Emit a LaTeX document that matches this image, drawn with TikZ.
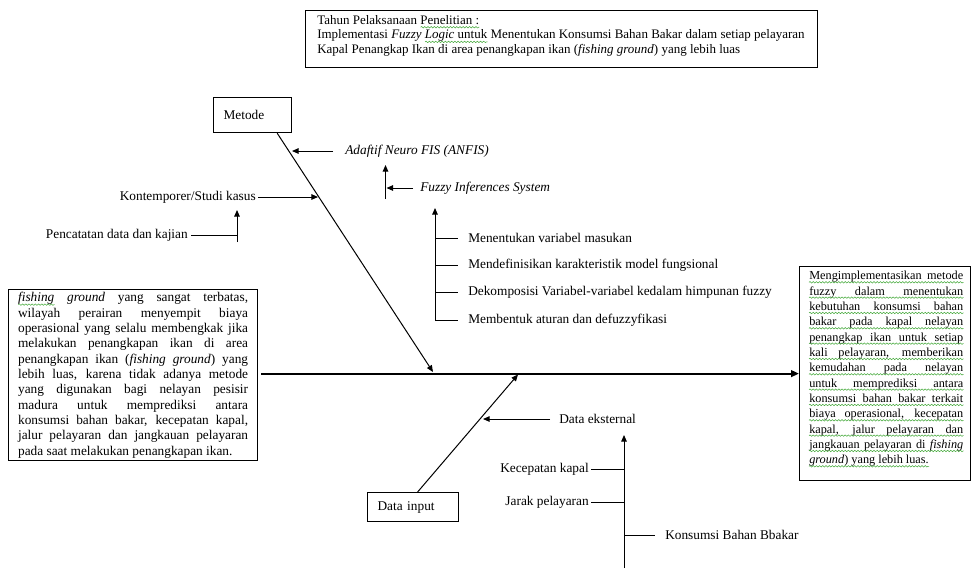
\documentclass[tikz,border=0pt]{standalone}
\usepackage{fontspec}
\setmainfont{Liberation Serif}
\usetikzlibrary{arrows.meta,calc,decorations.pathmorphing}
\definecolor{wavc}{RGB}{70,170,60}
\tikzset{
  ln/.style={line width=0.75pt},
  arr/.style={line width=0.75pt,-{Triangle[length=5pt,width=4.2pt]}},
  lbl/.style={inner sep=0pt,font=\fontsize{10}{12}\selectfont},
  ilbl/.style={inner sep=0pt,font=\fontsize{10}{12}\selectfont\itshape},
  framebox/.style={draw,line width=0.9pt,inner sep=0pt},
  wave/.style={draw=wavc,line width=0.4pt,decorate,decoration={snake,amplitude=0.55pt,segment length=2.4pt}},
}
\newsavebox\gwbox
\newcommand\gw[1]{\sbox\gwbox{#1}\rlap{\tikz[baseline=0pt,x=1pt,y=1pt]\path[wave] (0,-2.2) -- (\the\wd\gwbox,-2.2);}\usebox\gwbox}
\begin{document}
\begin{tikzpicture}[x=0.75pt,y=-0.75pt]
\useasboundingbox (0,0) rectangle (971,568);
% top box
\node[framebox,anchor=north west,minimum width=384pt,minimum height=42.75pt] (topbox) at (305,10) {};
\node[lbl,anchor=north west,align=left,font=\fontsize{9.75}{11}\selectfont] (toptext) at (317,15)
 {Tahun Pelaksanaan \gw{Penelitian :}\\
  Implementasi \textit{Fuzzy} \gw{\textit{Logic} untuk} Menentukan Konsumsi Bahan Bakar dalam setiap pelayaran\\
  Kapal Penangkap Ikan di area penangkapan ikan (\textit{fishing ground}) yang lebih luas};
% left box
\node[framebox,anchor=north west,minimum width=186.75pt,minimum height=128.25pt] (lbox) at (8,289) {};
\node[lbl,text width=172.5pt,align=justify,font=\fontsize{10}{11.5}\selectfont] (ltext) at (lbox.center)
 {\gw{\textit{fishing}} \textit{ground} yang sangat terbatas,\linebreak
  wilayah perairan menyempit biaya\linebreak
  operasional yang selalu membengkak jika\linebreak
  melakukan penangkapan ikan di area\linebreak
  penangkapan ikan (\textit{fishing ground}) yang\linebreak
  lebih luas, karena tidak adanya metode\linebreak
  yang digunakan bagi nelayan pesisir\linebreak
  madura untuk memprediksi antara\linebreak
  konsumsi bahan bakar, kecepatan kapal,\linebreak
  jalur pelayaran dan jangkauan pelayaran\linebreak
  pada saat melakukan penangkapan ikan.};
% right box
\node[framebox,anchor=north west,minimum width=128.25pt,minimum height=160.5pt] (rbox) at (799,266) {};
\node[lbl,anchor=north west,text width=115.5pt,align=justify,font=\fontsize{9.2}{11.5}\selectfont] (rtext) at (809,271)
 {Mengimplementasikan metode\linebreak
  fuzzy dalam menentukan\linebreak
  kebutuhan konsumsi bahan\linebreak
  bakar pada kapal nelayan\linebreak
  penangkap ikan untuk setiap\linebreak
  kali pelayaran, memberikan\linebreak
  kemudahan pada nelayan\linebreak
  untuk memprediksi antara\linebreak
  konsumsi bahan bakar terkait\linebreak
  biaya operasional, kecepatan\linebreak
  kapal, jalur pelayaran dan\linebreak
  jangkauan pelayaran di \textit{fishing}\linebreak
  \textit{ground}) yang lebih luas.};
\foreach \k in {0,...,11}
  \path[wave] ($(rtext.north west)+(0,11.3+15.333*\k)$) -- ($(rtext.north east)+(0,11.3+15.333*\k)$);
\path[wave] ($(rtext.north west)+(0,11.3+15.333*12)$) -- ($(rtext.north west)+(120,11.3+15.333*12)$);
% main spine
\coordinate (ms) at ($(lbox.east |- rbox.west)+(3,0)$);
\draw[line width=1.6pt,-{Triangle[length=6pt,width=5pt]}] (ms) -- (rbox.west);
% Metode bone
\node[framebox,anchor=north west,minimum width=58.5pt,minimum height=26.25pt,text width=43.5pt,inner xsep=7.5pt,align=left,font=\fontsize{10}{12}\selectfont] (metode) at (213,97) {Metode};
\coordinate (m0) at ($(metode.south east)+(-15,0)$);
\coordinate (mtip) at (433,372);
\draw[arr] (m0) -- (mtip);
% ANFIS
\node[ilbl,anchor=west] (anfis) at (345,151) {Adaftif Neuro FIS (ANFIS)};
\coordinate (anfisTip) at (292,151);
\draw[arr] ($(anfis.west)+(-12,0)$) -- (anfisTip);
\coordinate (anfisBot) at (385.5,199);
\coordinate (anfisUp) at (385.5,165);
\draw[arr] (anfisBot) -- (anfisUp);
% FIS
\node[ilbl,anchor=west] (fis) at (420,188) {Fuzzy Inferences System};
\coordinate (fisTip) at (386.5,188);
\draw[arr] ($(fis.west)+(-7,0)$) -- (fisTip);
\coordinate (fisBot) at (435,321);
\coordinate (fisTop) at (435,208);
\draw[arr] (fisBot) -- (fisTop);
\node[lbl,anchor=west] (f1) at (468,238) {Menentukan variabel masukan};
\node[lbl,anchor=west] (f2) at (468,265) {Mendefinisikan karakteristik model fungsional};
\node[lbl,anchor=west] (f3) at (468,292) {Dekomposisi Variabel-variabel kedalam himpunan fuzzy};
\node[lbl,anchor=west] (f4) at (468,320) {Membentuk aturan dan defuzzyfikasi};
\foreach \n in {f1,f2,f3,f4}
  \draw[ln] (fisBot |- \n.west) -- ($(\n.west)+(-10,0)$);
% Kontemporer
\node[lbl,anchor=east] (kont) at (256,197) {Kontemporer/Studi kasus};
\coordinate (kontTip) at (318,197);
\draw[arr] ($(kont.east)+(2,0)$) -- (kontTip);
% Pencatatan
\node[lbl,anchor=east] (penc) at (188,235) {Pencatatan data dan kajian};
\coordinate (pencBot) at (237,242);
\coordinate (pencTop) at (237,210);
\draw[arr] (pencBot) -- (pencTop);
\draw[ln] ($(penc.east)+(3,0)$) -- (pencBot |- penc.east);
% Data input bone
\node[framebox,anchor=north west,minimum width=68.25pt,minimum height=21.75pt,text width=53.25pt,inner xsep=7.5pt,align=left,font=\fontsize{10}{12}\selectfont] (dinput) at (367,492) {Data input};
\coordinate (dtip) at (518,374.5);
\draw[arr] ($(dinput.north)+(4.5,0)$) -- (dtip);
% Data eksternal
\node[lbl,anchor=west] (dek) at (559,419) {Data eksternal};
\coordinate (dekTip) at (483,419);
\draw[arr] ($(dek.west)+(-9,0)$) -- (dekTip);
\coordinate (dvBot) at (624,568);
\coordinate (dvTop) at (624,435);
\draw[arr] (dvBot) -- (dvTop);
\node[lbl,anchor=east] (kec) at (589,469) {Kecepatan kapal};
\node[lbl,anchor=east] (jarak) at (589,502) {Jarak pelayaran};
\node[lbl,anchor=west] (kbb) at (665,535) {Konsumsi Bahan Bbakar};
\draw[ln] ($(kec.east)+(2,0)$) -- (dvBot |- kec.east);
\draw[ln] ($(jarak.east)+(2,0)$) -- (dvBot |- jarak.east);
\draw[ln] (dvBot |- kbb.west) -- ($(kbb.west)+(-10,0)$);
\end{tikzpicture}
\end{document}
